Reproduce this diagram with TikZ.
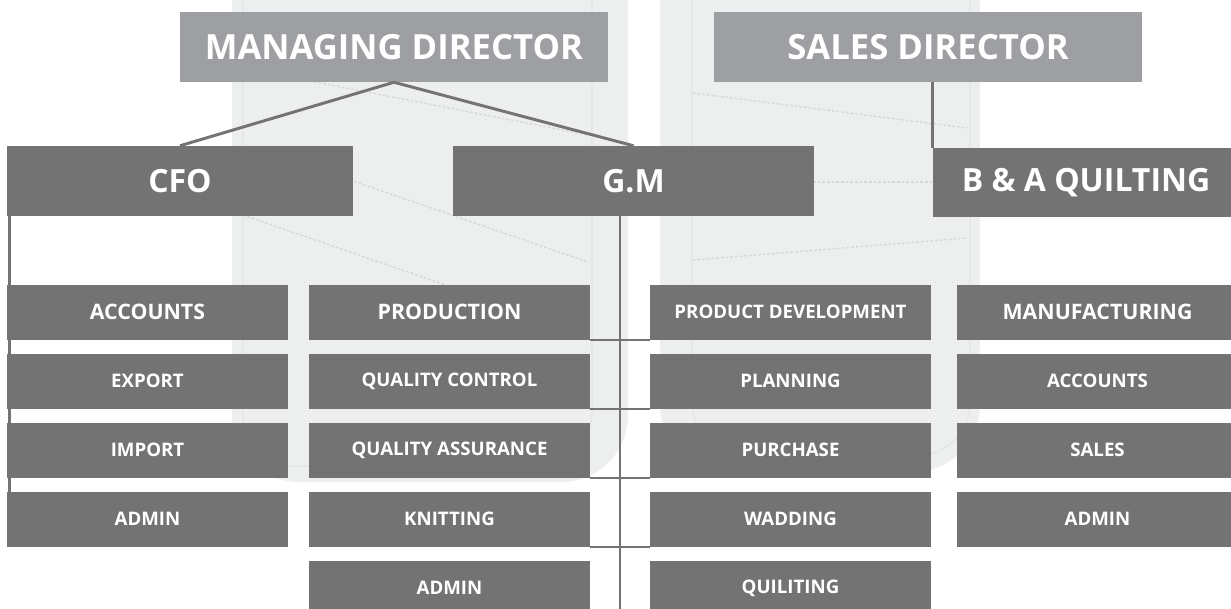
\documentclass[tikz,border=0pt]{standalone}
\usepackage{fontspec}
\setmainfont{Open Sans}
\usetikzlibrary{positioning}

\definecolor{boxgray}{HTML}{737373}
\definecolor{topgray}{HTML}{9D9FA2}
\definecolor{pillowgray}{HTML}{EDEEEE}
\definecolor{pillowedge}{HTML}{E3E4E4}
\definecolor{stitchgray}{HTML}{D6D7D7}

\tikzset{
  orgbox/.style={rectangle, fill=boxgray, text=white, inner sep=0pt, font=\bfseries},
  topbox/.style={orgbox, fill=topgray, minimum width=321pt, minimum height=52.5pt,
    font=\bfseries\fontsize{26}{30}\selectfont},
  headbox/.style={orgbox, minimum height=52.5pt, font=\bfseries\fontsize{24}{28}\selectfont},
  deptbox/.style={orgbox, minimum width=210.75pt, minimum height=41.25pt,
    font=\bfseries\fontsize{14}{17}\selectfont},
  firstrow/.style={font=\bfseries\fontsize{16}{19}\selectfont},
  link/.style={draw=boxgray, line width=2.2pt},
  branch/.style={draw=boxgray, line width=1.5pt},
  stitch/.style={draw=stitchgray, line width=1pt, dash pattern=on 2pt off 1.5pt}
}

\begin{document}
\begin{tikzpicture}[x=0.75pt, y=-0.75pt, node distance=51.75pt, on grid]
  \useasboundingbox (0,0) rectangle (1231,608);
  \clip (0,0) rectangle (1231,608);

  % pillows behind the chart
  \fill[pillowgray, rounded corners=50pt] (232,-60) rectangle (628,482);
  \draw[pillowedge, line width=1pt, rounded corners=40pt] (243,-60) rectangle (592,466);
  \fill[pillowgray, rounded corners=50pt] (660,-60) rectangle (980,472);
  \draw[pillowedge, line width=1pt, rounded corners=40pt] (692,-60) rectangle (970,456);
  \draw[stitch] (305,80) -- (588,135);
  \draw[stitch] (350,180) -- (588,262);
  \draw[stitch] (243,215) -- (460,290);
  \draw[stitch] (693,93) -- (967,128);
  \draw[stitch] (693,260) -- (967,238);
  \draw[stitch] (813,182) -- (933,182);

  \node (md) [topbox] at (394,47) {MANAGING DIRECTOR};
  \node (sd) [topbox] at (928,47) {SALES DIRECTOR};
  \node (cfo) [headbox, minimum width=259.5pt] at (180,181) {CFO};
  \node (gm) [headbox, minimum width=270.75pt] at (633.5,181) {G.M};
  \node (bq) [headbox, minimum width=229.5pt, minimum height=51.75pt] at (1086,182.5) {B \& A QUILTING};

  \node (acc) [deptbox, firstrow] at (147.5,312) {ACCOUNTS};
  \node (exp) [deptbox, below=of acc] {EXPORT};
  \node (imp) [deptbox, below=of exp] {IMPORT};
  \node (adm) [deptbox, below=of imp] {ADMIN};

  \node (prod) [deptbox, firstrow] at (449.5,312) {PRODUCTION};
  \node (qc) [deptbox, below=of prod] {QUALITY CONTROL};
  \node (qa) [deptbox, below=of qc] {QUALITY ASSURANCE};
  \node (knit) [deptbox, below=of qa] {KNITTING};
  \node (gmadm) [deptbox, below=of knit] {ADMIN};

  \node (pdev) [deptbox] at (790.5,312) {PRODUCT DEVELOPMENT};
  \node (plan) [deptbox, below=of pdev] {PLANNING};
  \node (purch) [deptbox, below=of plan] {PURCHASE};
  \node (wad) [deptbox, below=of purch] {WADDING};
  \node (quil) [deptbox, below=of wad] {QUILITING};

  \node (manu) [deptbox, firstrow] at (1097.5,312) {MANUFACTURING};
  \node (bqacc) [deptbox, below=of manu] {ACCOUNTS};
  \node (sales) [deptbox, below=of bqacc] {SALES};
  \node (bqadm) [deptbox, below=of sales] {ADMIN};

  \coordinate (gmfoot) at (620,612);
  \coordinate (cfofoot) at (9.5,519);

  \path[link]
    (md.south) edge (cfo.north)
    (md.south) edge (gm.north)
    (sd.south -| bq.west) edge (bq.north west)
    (gm.south -| gmfoot) edge (gmfoot)
    (cfo.south -| cfofoot) edge (cfofoot);
  \path[branch]
    (prod.south east) edge (pdev.south west)
    (qc.south east) edge (plan.south west)
    (qa.south east) edge (purch.south west)
    (knit.south east) edge (wad.south west);
\end{tikzpicture}
\end{document}
